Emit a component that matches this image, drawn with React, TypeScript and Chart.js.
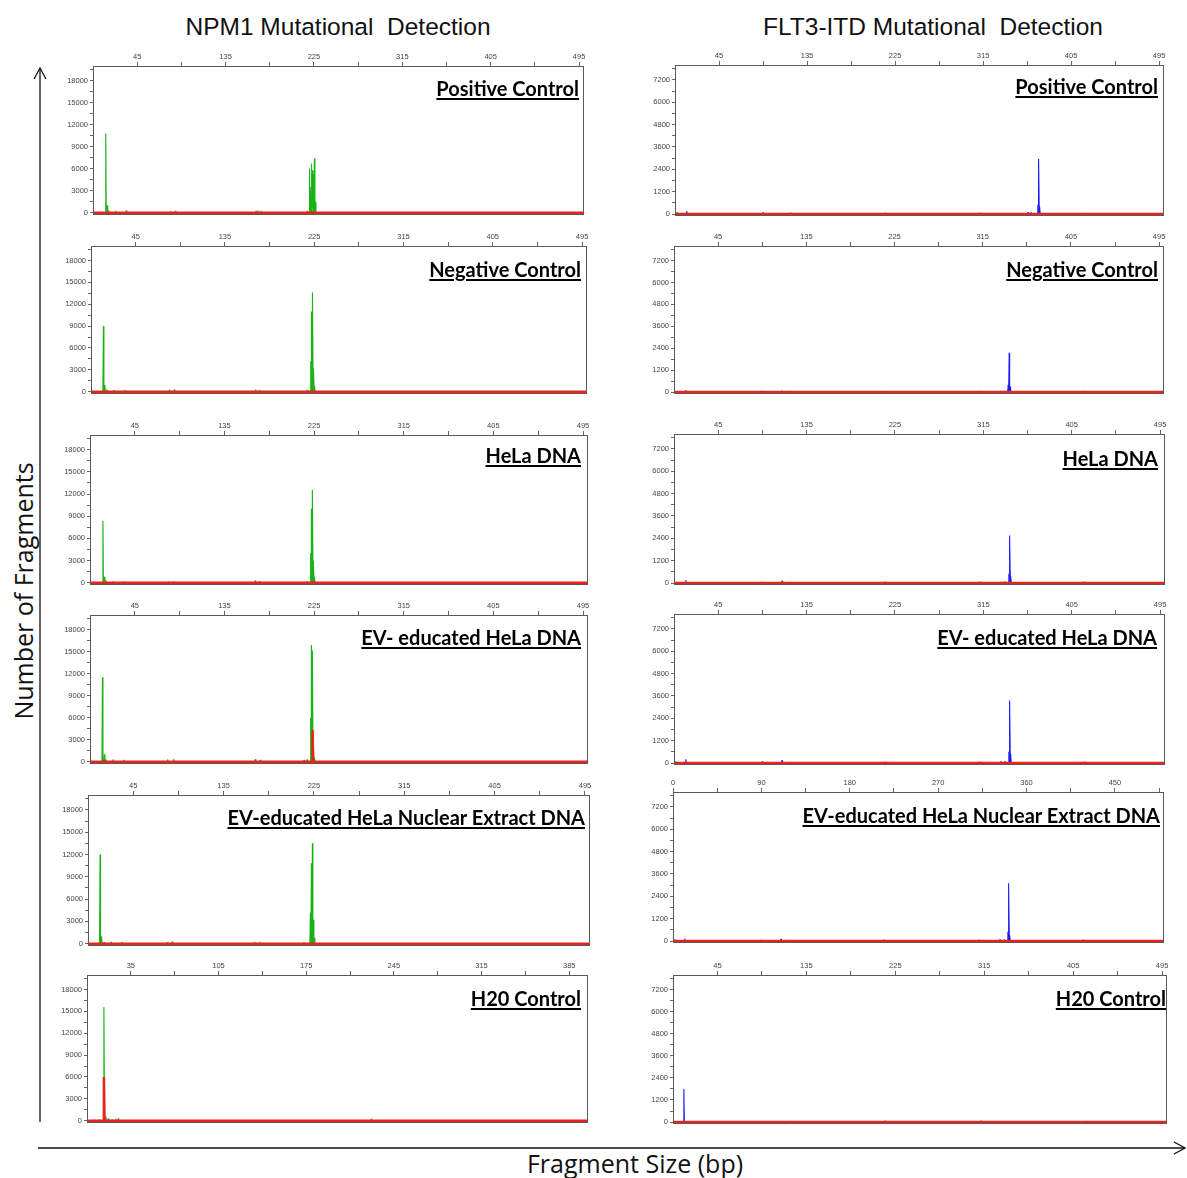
import React, { useEffect, useRef } from "react";
import { Chart, registerables } from "chart.js";

Chart.register(...registerables);

// ---------------- data ----------------
// tick labels
const NPM1_X_LABELS = [45, 135, 225, 315, 405, 495];
const NPM1_H2O_X_LABELS = [35, 105, 175, 245, 315, 385];
const FLT3_X_LABELS = [45, 135, 225, 315, 405, 495];
const FLT3_NUCLEAR_X_LABELS = [0, 90, 180, 270, 360, 450];
const NPM1_Y_LABELS = [0, 3000, 6000, 9000, 12000, 15000, 18000];
const FLT3_Y_LABELS = [0, 1200, 2400, 3600, 4800, 6000, 7200];

// peaks: [fragment size (bp), number of fragments]
const NPM1_POSITIVE_GREEN = [[13, 10800], [14.5, 1000], [16, 300], [23, 250], [34, 300], [79, 200], [84, 250], [166, 250], [168, 300], [171, 250], [218, 250], [220.5, 6000], [221.5, 3500], [222.5, 6700], [223.5, 5800], [224.5, 5200], [225.5, 7400], [226.5, 1500]];
const NPM1_NEGATIVE_GREEN = [[12.5, 9000], [14, 900], [16, 300], [23, 200], [34, 250], [79, 250], [84, 300], [166, 300], [170, 250], [218, 250], [221.5, 4200], [222.5, 11000], [223.5, 13600], [224.5, 3200], [225.5, 800]];
const NPM1_HELA_GREEN = [[13, 8400], [14.5, 800], [16, 300], [23, 200], [34, 200], [79, 150], [84, 200], [166, 300], [170, 200], [218, 200], [221.5, 4000], [222.5, 10000], [223.5, 12600], [224.5, 3000], [225.5, 800]];
const NPM1_EV_HELA_GREEN = [[12.5, 11500], [14.5, 1000], [16, 300], [23, 300], [34, 250], [78, 300], [84, 350], [166, 350], [171, 250], [215, 250], [218, 300], [221.5, 6000], [222.5, 15900], [223.5, 15200], [224.5, 2000], [225.5, 600]];
const NPM1_EV_HELA_RED = [[223.5, 4300]];
const NPM1_EV_NUCLEAR_GREEN = [[12, 12000], [13.5, 1000], [16, 200], [23, 250], [34, 200], [79, 200], [84, 300], [166, 250], [171, 250], [215, 200], [221.5, 4200], [222.5, 10800], [223.5, 13500], [224.5, 3200], [225.5, 800]];
const NPM1_H2O_GREEN = [[6, 100], [10, 150], [13.5, 15600], [15, 600], [17, 300], [20, 150], [23, 250], [25, 300], [227, 250]];
const NPM1_H2O_RED = [[13.5, 6000]];

const FLT3_POSITIVE_BLUE = [[2, 100], [12, 150], [90, 80], [361, 100], [364, 100], [371, 500], [372, 2950], [373, 400]];
const FLT3_NEGATIVE_BLUE = [[12, 100], [90, 50], [110, 80], [333, 60], [337, 60], [341, 400], [342, 2150], [343, 300]];
const FLT3_HELA_BLUE = [[2, 60], [12, 150], [90, 60], [110, 120], [333, 60], [337, 80], [341, 500], [342, 2550], [343, 400]];
const FLT3_EV_HELA_BLUE = [[2, 80], [12, 200], [90, 80], [110, 150], [333, 80], [337, 100], [341, 600], [342, 3350], [343, 500]];
const FLT3_EV_NUCLEAR_BLUE = [[2, 80], [12, 120], [90, 60], [110, 120], [333, 80], [337, 80], [341, 500], [342, 3100], [343, 300]];
const FLT3_H2O_BLUE = [[11, 1800]];
const FLT3_RED = [[118, 60], [215, 50], [312, 60], [418, 60]];

// ---------------- styles / layout ----------------
const GREEN = "#17b317";
const BLUE = "#1c1cf5";
const RED = "#e8231d";
const PEAK_HALF = 0.5;
const YW = 40;
const XH = 14;
const PR = 4;
const PB = 4;
const TICK_FONT = "'Liberation Sans', Arial, sans-serif";

type Panel = {
  title: string;
  frame: [number, number, number, number];
  titleRight: number;
  titleY: number;
  xMax: number;
  xLabels: number[];
  yLabels: number[];
  yMin: number;
  yMax: number;
  peaks: number[][];
  color: string;
  red: number[][];
};

const NPM1_AXIS = { yLabels: NPM1_Y_LABELS, yMin: -250, yMax: 20000, color: GREEN };
const FLT3_AXIS = { yLabels: FLT3_Y_LABELS, yMin: -80, yMax: 8000, color: BLUE };

const PANELS: Panel[] = [
  { ...NPM1_AXIS, title: "Positive Control", frame: [93, 66, 584, 217], titleRight: 579, titleY: 88, xMax: 500, xLabels: NPM1_X_LABELS, peaks: NPM1_POSITIVE_GREEN, red: [] },
  { ...NPM1_AXIS, title: "Negative Control", frame: [91, 246, 587, 396], titleRight: 581, titleY: 269, xMax: 500, xLabels: NPM1_X_LABELS, peaks: NPM1_NEGATIVE_GREEN, red: [] },
  { ...NPM1_AXIS, title: "HeLa DNA", frame: [90, 435, 588, 587], titleRight: 581, titleY: 455, xMax: 500, xLabels: NPM1_X_LABELS, peaks: NPM1_HELA_GREEN, red: [] },
  { ...NPM1_AXIS, title: "EV- educated HeLa DNA", frame: [90, 615, 588, 766], titleRight: 581, titleY: 637, xMax: 500, xLabels: NPM1_X_LABELS, peaks: NPM1_EV_HELA_GREEN, red: NPM1_EV_HELA_RED },
  { ...NPM1_AXIS, title: "EV-educated HeLa Nuclear Extract DNA", frame: [88, 795, 590, 948], titleRight: 585, titleY: 817, xMax: 500, xLabels: NPM1_X_LABELS, peaks: NPM1_EV_NUCLEAR_GREEN, red: [] },
  { ...NPM1_AXIS, title: "H20 Control", frame: [87, 975, 588, 1125], titleRight: 581, titleY: 998, xMax: 400, xLabels: NPM1_H2O_X_LABELS, peaks: NPM1_H2O_GREEN, red: NPM1_H2O_RED },
  { ...FLT3_AXIS, title: "Positive Control", frame: [675, 65, 1164, 218], titleRight: 1158, titleY: 86, xMax: 500, xLabels: FLT3_X_LABELS, peaks: FLT3_POSITIVE_BLUE, red: FLT3_RED },
  { ...FLT3_AXIS, title: "Negative Control", frame: [674, 246, 1164, 396], titleRight: 1158, titleY: 269, xMax: 500, xLabels: FLT3_X_LABELS, peaks: FLT3_NEGATIVE_BLUE, red: FLT3_RED },
  { ...FLT3_AXIS, title: "HeLa DNA", frame: [674, 434, 1165, 587], titleRight: 1158, titleY: 458, xMax: 500, xLabels: FLT3_X_LABELS, peaks: FLT3_HELA_BLUE, red: FLT3_RED },
  { ...FLT3_AXIS, title: "EV- educated HeLa DNA", frame: [674, 614, 1165, 767], titleRight: 1157, titleY: 637, xMax: 500, xLabels: FLT3_X_LABELS, peaks: FLT3_EV_HELA_BLUE, red: FLT3_RED },
  { ...FLT3_AXIS, title: "EV-educated HeLa Nuclear Extract DNA", frame: [673, 792, 1164, 945], titleRight: 1160, titleY: 815, xMax: 500, xLabels: FLT3_NUCLEAR_X_LABELS, peaks: FLT3_EV_NUCLEAR_BLUE, red: FLT3_RED },
  { ...FLT3_AXIS, title: "H20 Control", frame: [673, 975, 1167, 1126], titleRight: 1166, titleY: 998, xMax: 500, xLabels: FLT3_X_LABELS, peaks: FLT3_H2O_BLUE, red: FLT3_RED },
];

function trace(peaks: number[][], xMax: number) {
  const pts: { x: number; y: number }[] = [{ x: 0, y: 0 }];
  [...peaks].sort((a, b) => a[0] - b[0]).forEach(([p, h]) => {
    pts.push({ x: p - PEAK_HALF, y: 0 }, { x: p, y: h }, { x: p + PEAK_HALF, y: 0 });
  });
  pts.push({ x: xMax, y: 0 });
  return pts;
}

function withMinor(labels: number[], min: number, max: number) {
  const step = labels[1] - labels[0];
  const all = new Set<number>(labels);
  labels.forEach((v) => {
    if (v + step / 2 <= max) all.add(v + step / 2);
    if (v - step / 2 > min) all.add(v - step / 2);
  });
  return [...all].filter((v) => v >= min && v <= max).sort((a, b) => a - b);
}

const framePlugin = {
  id: "frameBox",
  afterDraw(chart: any) {
    const { ctx, chartArea } = chart;
    const { left, top, right, bottom } = chartArea;
    ctx.save();
    ctx.strokeStyle = "#5a5a5a";
    ctx.lineWidth = 1;
    ctx.strokeRect(Math.round(left) + 0.5, Math.round(top) + 0.5, Math.round(right - left) - 1, Math.round(bottom - top) - 1);
    ctx.restore();
  },
};

function PanelChart({ p }: { p: Panel }) {
  const ref = useRef<HTMLCanvasElement>(null);
  const [l, t, r, b] = p.frame;
  const w = r - l + YW + PR;
  const h = b - t + XH + PB;

  useEffect(() => {
    if (!ref.current) return;
    const xTicks = withMinor(p.xLabels, 0, p.xMax);
    const yTicks = withMinor(p.yLabels, 0, p.yMax);
    const chart = new Chart(ref.current, {
      type: "line",
      data: {
        datasets: [
          { data: trace(p.red, p.xMax), borderColor: RED, borderWidth: 2.5, order: 0 },
          { data: trace(p.peaks, p.xMax), borderColor: p.color, borderWidth: 1.1, order: 1 },
        ],
      },
      options: {
        animation: false,
        responsive: false,
        events: [],
        parsing: false as any,
        layout: { padding: { left: 0, top: 0, right: PR, bottom: PB } },
        plugins: { legend: { display: false }, tooltip: { enabled: false }, title: { display: false } },
        elements: { point: { radius: 0 }, line: { tension: 0, borderJoinStyle: "bevel" } },
        scales: {
          x: {
            type: "linear",
            position: "top",
            min: 0,
            max: p.xMax,
            afterBuildTicks: (s: any) => {
              s.ticks = xTicks.map((v) => ({ value: v }));
            },
            afterFit: (s: any) => {
              s.height = XH;
            },
            ticks: {
              autoSkip: false,
              maxRotation: 0,
              padding: 1,
              color: "#444",
              font: { size: 7.5, family: TICK_FONT },
              callback: (v: any) => (p.xLabels.includes(Number(v)) ? String(v) : ""),
            },
            grid: { drawOnChartArea: false, drawTicks: true, tickLength: 4, color: "#666" },
            border: { display: false },
          },
          y: {
            type: "linear",
            min: p.yMin,
            max: p.yMax,
            afterBuildTicks: (s: any) => {
              s.ticks = yTicks.map((v) => ({ value: v }));
            },
            afterFit: (s: any) => {
              s.width = YW;
            },
            ticks: {
              autoSkip: false,
              padding: 2,
              color: "#444",
              font: { size: 7.5, family: TICK_FONT },
              callback: (v: any) => (p.yLabels.includes(Number(v)) ? String(v) : ""),
            },
            grid: { drawOnChartArea: false, drawTicks: true, tickLength: 3, color: "#666" },
            border: { display: false },
          },
        },
      } as any,
      plugins: [framePlugin],
    });
    return () => chart.destroy();
  }, []);

  return (
    <>
      <canvas
        ref={ref}
        width={w}
        height={h}
        style={{ position: "absolute", left: l - YW, top: t - XH, width: w, height: h }}
      />
      <div
        style={{
          position: "absolute",
          left: p.titleRight - 500,
          width: 500,
          top: p.titleY - 13,
          height: 26,
          lineHeight: "26px",
          textAlign: "right",
          fontFamily: "Lato, 'Open Sans', sans-serif",
          fontWeight: 700,
          fontSize: 20,
          color: "#000",
          textDecoration: "underline",
          textDecorationThickness: "2px",
          textUnderlineOffset: "2px",
          whiteSpace: "nowrap",
        }}
      >
        {p.title}
      </div>
    </>
  );
}

export default function App() {
  return (
    <div
      style={{
        position: "absolute",
        left: 0,
        top: 0,
        width: 1187,
        height: 1178,
        background: "#fff",
        overflow: "hidden",
      }}
    >
      <div
        style={{
          position: "absolute",
          left: 138,
          width: 400,
          top: 12,
          textAlign: "center",
          fontFamily: "'Liberation Sans', Arial, sans-serif",
          fontSize: 24.5,
          lineHeight: "30px",
          color: "#111",
          whiteSpace: "pre",
        }}
      >
        {"NPM1 Mutational  Detection"}
      </div>
      <div
        style={{
          position: "absolute",
          left: 733,
          width: 400,
          top: 12,
          textAlign: "center",
          fontFamily: "'Liberation Sans', Arial, sans-serif",
          fontSize: 24.5,
          lineHeight: "30px",
          color: "#111",
          whiteSpace: "pre",
        }}
      >
        {"FLT3-ITD Mutational  Detection"}
      </div>
      <div
        style={{
          position: "absolute",
          left: 23 - 150,
          top: 591 - 17,
          width: 300,
          height: 34,
          lineHeight: "34px",
          textAlign: "center",
          transform: "rotate(-90deg)",
          fontFamily: "'Open Sans', sans-serif",
          fontSize: 25,
          color: "#111",
          whiteSpace: "nowrap",
        }}
      >
        Number of Fragments
      </div>
      <div
        style={{
          position: "absolute",
          left: 485,
          width: 300,
          top: 1147,
          lineHeight: "32px",
          textAlign: "center",
          fontFamily: "'Open Sans', sans-serif",
          fontSize: 25,
          color: "#111",
          whiteSpace: "nowrap",
        }}
      >
        Fragment Size (bp)
      </div>
      <svg width={1187} height={1178} style={{ position: "absolute", left: 0, top: 0 }}>
        <g stroke="#111" strokeWidth={1.3} fill="none">
          <line x1={40} y1={1122} x2={40} y2={68} />
          <polyline points="34,79 40,68 46,79" />
          <line x1={38} y1={1148} x2={1185} y2={1148} />
          <polyline points="1174,1142 1185,1148 1174,1154" />
        </g>
      </svg>
      {PANELS.map((p, i) => (
        <PanelChart key={i} p={p} />
      ))}
    </div>
  );
}
